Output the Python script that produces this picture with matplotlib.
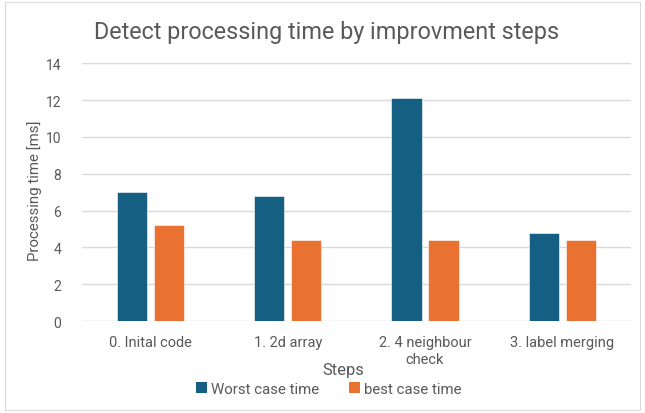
import matplotlib
matplotlib.use("Agg")
import matplotlib.pyplot as plt
from matplotlib.patches import Rectangle, Patch
import numpy as np

categories = ["0. Inital code", "1. 2d array", "2. 4 neighbour\ncheck", "3. label merging"]
worst_case = [7.0, 6.8, 12.1, 4.8]
best_case = [5.2, 4.4, 4.4, 4.4]
y_ticks = [0, 2, 4, 6, 8, 10, 12, 14]

title = "Detect processing time by improvment steps"
x_label = "Steps"
y_label = "Processing time [ms]"
series_names = ["Worst case time", "best case time"]

c_worst = "#156082"
c_best = "#E97132"
text_c = "#595959"
grid_c = "#D9D9D9"

plt.rcParams["font.family"] = ["Roboto", "DejaVu Sans"]

fig = plt.figure(figsize=(6.45, 4.14), dpi=100)
fig.patch.set_facecolor("white")
fig.add_artist(Rectangle((0.008, 0.008), 0.984, 0.984, transform=fig.transFigure,
                         fill=False, edgecolor="#D9D9D9", linewidth=0.8))

ax = fig.add_axes([0.127, 0.222, 0.851, 0.623])
x = np.arange(len(categories))
w = 0.22
off = 0.135
ax.bar(x - off, worst_case, w, color=c_worst, edgecolor="white", linewidth=0.4, zorder=3)
ax.bar(x + off, best_case, w, color=c_best, edgecolor="white", linewidth=0.4, zorder=3)

ax.set_xlim(-0.5, len(categories) - 0.5)
ax.set_ylim(0, 14)
ax.set_yticks(y_ticks)
ax.set_yticklabels([str(v) for v in y_ticks])
ax.set_xticks(x)
ax.set_xticklabels(categories, linespacing=1.25)
ax.tick_params(axis="both", length=0, colors=text_c)
ax.tick_params(axis="x", pad=10, labelsize=10.5)
ax.tick_params(axis="y", pad=15, labelsize=10)
ax.grid(axis="y", color=grid_c, linewidth=1.0, zorder=0)
for s in ax.spines.values():
    s.set_visible(False)

fig.text(0.507, 0.922, title, ha="center", va="center", fontsize=16.8, color=text_c)
fig.text(0.532, 0.104, x_label, ha="center", va="center", fontsize=12, color=text_c)
fig.text(0.054, 0.539, y_label, ha="center", va="center", rotation=90, fontsize=10.8, color=text_c)

handles = [Patch(facecolor=c_worst), Patch(facecolor=c_best)]
fig.legend(handles, series_names, loc="center", bbox_to_anchor=(0.51, 0.058), ncol=2,
           frameon=False, fontsize=10.8, labelcolor=text_c, handlelength=0.7, handleheight=0.7,
           handletextpad=0.3, columnspacing=2.0)

fig.savefig("out.png", dpi=100, facecolor="white")
